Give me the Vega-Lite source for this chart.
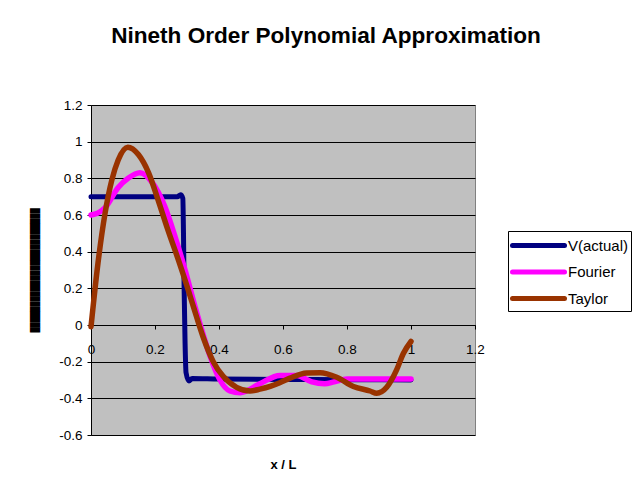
{
  "$schema": "https://vega.github.io/schema/vega-lite/v6.json",
  "width": 384,
  "height": 330,
  "autosize": "none",
  "padding": {"left": 91, "top": 105, "right": 169, "bottom": 65},
  "background": "white",
  "title": {
    "text": "Nineth Order Polynomial Approximation",
    "font": "Liberation Sans",
    "fontSize": 22.6,
    "fontWeight": "bold",
    "color": "black",
    "anchor": "middle",
    "frame": "group",
    "dx": 43,
    "offset": 32,
    "baseline": "alphabetic"
  },
  "data": {
    "values": [
      {"series": "V(actual)", "x": 0, "y": 0.7},
      {"series": "V(actual)", "x": 0.1, "y": 0.7},
      {"series": "V(actual)", "x": 0.2, "y": 0.7},
      {"series": "V(actual)", "x": 0.27, "y": 0.7},
      {"series": "V(actual)", "x": 0.28, "y": 0.71},
      {"series": "V(actual)", "x": 0.287, "y": 0.69},
      {"series": "V(actual)", "x": 0.289, "y": 0.5},
      {"series": "V(actual)", "x": 0.291, "y": 0.2},
      {"series": "V(actual)", "x": 0.294, "y": -0.1},
      {"series": "V(actual)", "x": 0.297, "y": -0.26},
      {"series": "V(actual)", "x": 0.306, "y": -0.305},
      {"series": "V(actual)", "x": 0.316, "y": -0.292},
      {"series": "V(actual)", "x": 0.4, "y": -0.295},
      {"series": "V(actual)", "x": 0.6, "y": -0.297},
      {"series": "V(actual)", "x": 0.8, "y": -0.298},
      {"series": "V(actual)", "x": 1.0, "y": -0.3},
      {"series": "Fourier", "x": 0, "y": 0.6},
      {"series": "Fourier", "x": 0.02, "y": 0.61},
      {"series": "Fourier", "x": 0.044, "y": 0.64},
      {"series": "Fourier", "x": 0.085, "y": 0.75},
      {"series": "Fourier", "x": 0.116, "y": 0.8},
      {"series": "Fourier", "x": 0.153, "y": 0.83},
      {"series": "Fourier", "x": 0.19, "y": 0.78},
      {"series": "Fourier", "x": 0.231, "y": 0.645},
      {"series": "Fourier", "x": 0.263, "y": 0.48},
      {"series": "Fourier", "x": 0.294, "y": 0.3},
      {"series": "Fourier", "x": 0.325, "y": 0.1},
      {"series": "Fourier", "x": 0.34, "y": 0.01},
      {"series": "Fourier", "x": 0.372, "y": -0.17},
      {"series": "Fourier", "x": 0.403, "y": -0.3},
      {"series": "Fourier", "x": 0.434, "y": -0.36},
      {"series": "Fourier", "x": 0.466, "y": -0.37},
      {"series": "Fourier", "x": 0.528, "y": -0.32},
      {"series": "Fourier", "x": 0.59, "y": -0.275},
      {"series": "Fourier", "x": 0.643, "y": -0.275},
      {"series": "Fourier", "x": 0.69, "y": -0.31},
      {"series": "Fourier", "x": 0.73, "y": -0.32},
      {"series": "Fourier", "x": 0.76, "y": -0.31},
      {"series": "Fourier", "x": 0.8, "y": -0.295},
      {"series": "Fourier", "x": 0.9, "y": -0.295},
      {"series": "Fourier", "x": 1.0, "y": -0.295},
      {"series": "Taylor", "x": 0, "y": -0.01},
      {"series": "Taylor", "x": 0.022, "y": 0.34},
      {"series": "Taylor", "x": 0.044, "y": 0.61},
      {"series": "Taylor", "x": 0.065, "y": 0.79},
      {"series": "Taylor", "x": 0.085, "y": 0.9},
      {"series": "Taylor", "x": 0.115, "y": 0.97},
      {"series": "Taylor", "x": 0.148, "y": 0.93},
      {"series": "Taylor", "x": 0.18, "y": 0.83},
      {"series": "Taylor", "x": 0.21, "y": 0.68},
      {"series": "Taylor", "x": 0.24, "y": 0.52},
      {"series": "Taylor", "x": 0.273, "y": 0.355},
      {"series": "Taylor", "x": 0.304, "y": 0.19},
      {"series": "Taylor", "x": 0.32, "y": 0.1},
      {"series": "Taylor", "x": 0.35, "y": -0.064},
      {"series": "Taylor", "x": 0.382, "y": -0.2},
      {"series": "Taylor", "x": 0.413, "y": -0.28},
      {"series": "Taylor", "x": 0.455, "y": -0.34},
      {"series": "Taylor", "x": 0.497, "y": -0.36},
      {"series": "Taylor", "x": 0.528, "y": -0.35},
      {"series": "Taylor", "x": 0.56, "y": -0.335},
      {"series": "Taylor", "x": 0.59, "y": -0.315},
      {"series": "Taylor", "x": 0.622, "y": -0.29},
      {"series": "Taylor", "x": 0.674, "y": -0.262},
      {"series": "Taylor", "x": 0.716, "y": -0.26},
      {"series": "Taylor", "x": 0.768, "y": -0.285},
      {"series": "Taylor", "x": 0.82, "y": -0.335},
      {"series": "Taylor", "x": 0.872, "y": -0.36},
      {"series": "Taylor", "x": 0.893, "y": -0.372},
      {"series": "Taylor", "x": 0.924, "y": -0.34},
      {"series": "Taylor", "x": 0.955, "y": -0.245},
      {"series": "Taylor", "x": 0.976, "y": -0.155},
      {"series": "Taylor", "x": 1.0, "y": -0.09}
    ]
  },
  "encoding": {
    "x": {
      "field": "x",
      "type": "quantitative",
      "scale": {"domain": [0, 1.2], "nice": false, "zero": false},
      "axis": {
        "title": "x / L",
        "values": [0, 0.2, 0.4, 0.6, 0.8, 1, 1.2],
        "format": "~g",
        "offset": -110,
        "grid": false,
        "tickSize": 4,
        "tickColor": "black",
        "domainColor": "black",
        "labelPadding": 13,
        "labelFont": "Liberation Sans",
        "labelFontSize": 13.5,
        "labelColor": "black",
        "labelFlush": false,
        "labelOverlap": false,
        "titleFont": "Liberation Sans",
        "titleFontSize": 13,
        "titleFontWeight": "bold",
        "titleColor": "black",
        "titlePadding": 103
      }
    },
    "y": {
      "field": "y",
      "type": "quantitative",
      "scale": {"domain": [-0.6, 1.2], "nice": false, "zero": false},
      "axis": {
        "title": "████████████████████████",
        "values": [-0.6, -0.4, -0.2, 0, 0.2, 0.4, 0.6, 0.8, 1, 1.2],
        "format": "~g",
        "grid": true,
        "gridColor": "black",
        "gridOpacity": 1,
        "gridWidth": 1,
        "tickSize": 4,
        "tickColor": "black",
        "domainColor": "black",
        "labelPadding": 5,
        "labelFont": "Liberation Sans",
        "labelFontSize": 13.5,
        "labelColor": "black",
        "labelFlush": false,
        "labelOverlap": false,
        "titleFont": "DejaVu Sans Mono",
        "titleFontSize": 8.6,
        "titleFontWeight": "normal",
        "titleColor": "black",
        "titlePadding": 19
      }
    },
    "color": {
      "field": "series",
      "type": "nominal",
      "scale": {"domain": ["V(actual)", "Fourier", "Taylor"], "range": ["#000080", "#FF00FF", "#993300"]},
      "legend": {
        "title": null,
        "orient": "none",
        "legendX": 417,
        "legendY": 126,
        "direction": "vertical",
        "strokeColor": "black",
        "fillColor": "white",
        "padding": 2,
        "cornerRadius": 0,
        "symbolType": "M-2.6,0H2.6",
        "symbolSize": 400,
        "symbolStrokeWidth": 5,
        "symbolOffset": 16,
        "labelOffset": 17,
        "labelFont": "Liberation Sans",
        "labelFontSize": 15,
        "labelColor": "black",
        "rowPadding": 3.5,
        "encode": {
          "symbols": {"update": {"strokeCap": {"value": "round"}}}
        }
      }
    }
  },
  "layer": [
    {"transform": [{"filter": "datum.series === 'V(actual)'"}], "mark": {"type": "line", "strokeWidth": 5, "interpolate": "monotone", "strokeCap": "round", "strokeJoin": "round"}},
    {"transform": [{"filter": "datum.series === 'Fourier'"}], "mark": {"type": "line", "strokeWidth": 5.5, "interpolate": "monotone", "strokeCap": "round", "strokeJoin": "round"}},
    {"transform": [{"filter": "datum.series === 'Taylor'"}], "mark": {"type": "line", "strokeWidth": 5.5, "interpolate": "monotone", "strokeCap": "round", "strokeJoin": "round"}}
  ],
  "config": {
    "locale": {"number": {"decimal": ".", "thousands": ",", "grouping": [3], "currency": ["$", ""], "minus": "-"}},
    "view": {"fill": "#C0C0C0", "stroke": "#808080", "strokeWidth": 1}
  }
}
